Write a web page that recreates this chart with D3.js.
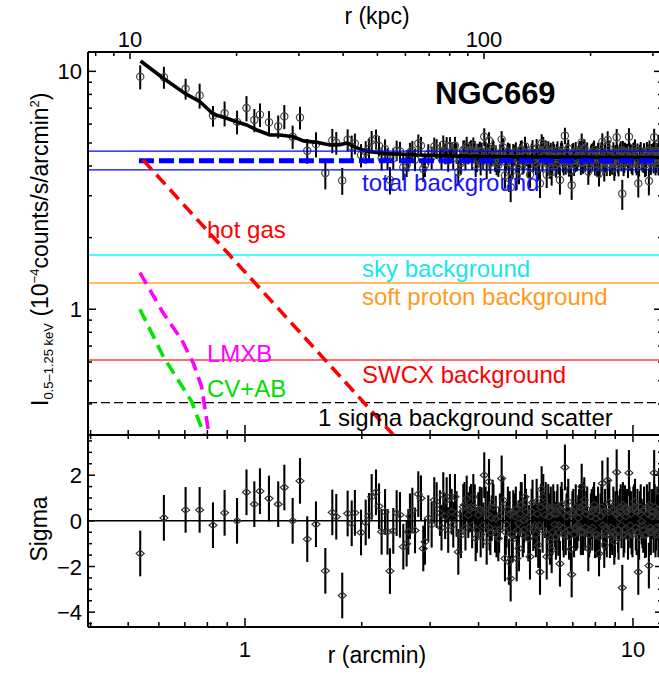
<!DOCTYPE html>
<html>
<head>
<meta charset="utf-8">
<script src="https://cdn.jsdelivr.net/npm/d3@7"></script>
<style>
  body { margin: 0; background: #fff; }
  svg { display: block; }
  text { font-family: "Liberation Sans", Arial, Helvetica, sans-serif; }
</style>
</head>
<body>
<svg id="chart" width="659" height="674"></svg>
<script>
// ---------- surface-brightness profile of NGC 669 ----------
// radial bins (arcmin)
const radiusArcmin = [
  0.537, 0.618, 0.703, 0.764, 0.827, 0.886, 0.954, 1.009, 1.057, 1.093,
  1.153, 1.218, 1.263, 1.327, 1.386, 1.447, 1.524, 1.611, 1.679, 1.719,
  1.781, 1.839, 1.884, 1.920, 1.991, 2.047, 2.087, 2.121, 2.176, 2.215,
  2.250,
  2.296, 2.330, 2.364, 2.411, 2.460, 2.509, 2.559, 2.610, 2.636, 2.662,
  2.700, 2.743, 2.797, 2.842, 2.881, 2.910, 2.968, 3.028, 3.075, 3.119,
  3.181, 3.210, 3.244, 3.280, 3.310, 3.340, 3.375, 3.442, 3.477, 3.510,
  3.546, 3.603, 3.653, 3.700, 3.728, 3.763, 3.800, 3.824, 3.877, 3.932,
  3.960, 3.993, 4.030, 4.074, 4.110, 4.137, 4.197, 4.220, 4.255, 4.290,
  4.324, 4.370, 4.410, 4.450, 4.497, 4.540, 4.587, 4.631, 4.678, 4.725,
  4.760, 4.790, 4.839, 4.870, 4.914, 4.960, 5.015, 5.050, 5.084, 5.120,
  5.166, 5.200, 5.247, 5.268, 5.321, 5.373, 5.427, 5.480, 5.534, 5.590,
  5.645, 5.699, 5.759, 5.817, 5.873, 5.932, 5.993, 6.049, 6.111, 6.172,
  6.230, 6.295, 6.360, 6.419, 6.483, 6.520, 6.572, 6.630, 6.678, 6.740,
  6.811, 6.870, 6.921, 6.950, 7.020, 7.088, 7.160, 7.228, 7.300, 7.376,
  7.430, 7.491, 7.580, 7.671, 7.750, 7.828, 7.900, 7.983, 8.080, 8.175,
  8.250, 8.337, 8.433, 8.520, 8.605, 8.660, 8.723, 8.840, 8.951, 9.010,
  9.078, 9.150, 9.220, 9.300, 9.385, 9.460, 9.536, 9.650, 9.765, 9.840,
  9.922, 10.02, 10.12, 10.22, 10.32, 10.42, 10.53, 10.63, 10.74, 10.86,
  10.99, 11.08, 11.17, 11.26, 11.34, 11.43, 11.51, 11.60, 11.67, 11.80,
  // crowded outer bins
  3.41, 3.59, 3.68, 3.85, 3.91, 4.05, 4.17, 4.27, 4.35, 4.43,
  4.52, 4.61, 4.70, 4.81, 4.90, 4.99, 5.07, 5.14, 5.23, 5.30,
  5.40, 5.51, 5.62, 5.67, 5.73, 5.79, 5.85, 5.96, 6.02, 6.08,
  6.14, 6.20, 6.26, 6.33, 6.39, 6.45, 6.55, 6.60, 6.71, 6.78,
  6.84, 6.98, 7.05, 7.12, 7.19, 7.26, 7.34, 7.46, 7.53, 7.62,
  7.71, 7.79, 7.86, 7.94, 8.03, 8.13, 8.21, 8.29, 8.38, 8.47,
  8.56, 8.69, 8.78, 8.90, 8.98, 9.11, 9.18, 9.26, 9.34, 9.42,
  9.50, 9.59, 9.71, 9.80, 9.88, 9.97, 10.07, 10.17, 10.27, 10.37,
  10.47, 10.58, 10.68, 10.80, 10.92, 11.03, 11.12, 11.21, 11.30, 11.38,
  11.47, 11.55, 11.63, 11.73, 11.86
];

// fit residuals, (data - model) / error
const residualSigma = [
  -1.43, 0.13, 0.48, 0.48, -0.19, 0.35, 0.00, 1.25, 0.73, 1.30,
  0.98, 0.73, 1.46, 0.00, 1.75, -0.80, -0.15, -2.19, 0.37, 0.18,
  -3.27, 0.32, -0.11, 0.35, -0.51, -0.07, 0.22, 1.05, 1.25, 0.64,
  -0.48,
  0.39, -0.48, -2.20, -0.44, 0.34, 0.26, -1.13, -1.00, -0.48, 0.20,
  0.45, -0.42, 1.17, 0.99, -1.21, -0.92, 0.12, -0.17, 0.91, 0.69,
  0.34, -0.30, 1.13, 0.20, 0.91, -0.40, 1.05, -0.17, 1.05, 0.30,
  -1.36, -0.63, 0.61, -0.30, 0.98, 0.25, 0.50, 0.61, 1.05, -0.77,
  -0.40, 0.25, 0.50, 0.47, -0.20, 2.00, -0.92, 0.30, 1.71, -0.50,
  0.12, 0.60, -0.39, -0.60, -0.77, 0.20, 1.86, 0.91, -1.65, -0.17,
  0.50, -1.80, -2.53, -0.60, 0.34, 0.20, -1.65, -0.40, -1.21, 0.30,
  0.69, -0.60, 0.04, 1.05, 0.12, -0.77, -1.57, 0.40, -0.32, -0.20,
  0.84, -1.06, -2.24, 1.39, 1.05, 0.25, -1.57, 0.61, -0.92, -1.29,
  0.60, -0.17, 0.30, -0.53, -1.88, 0.50, 0.39, -0.60, 2.34, 0.20,
  0.84, -0.40, -1.24, -2.35, 0.40, -0.32, -0.30, 0.12, 0.60, 1.50,
  -0.50, 0.91, 0.30, -1.21, -0.40, 0.39, 0.50, -0.63, -0.60, -1.43,
  0.20, 1.64, -1.06, -0.30, 1.78, 0.40, -0.63, -0.50, -0.92, 0.30,
  2.13, -0.40, 0.12, 0.60, -2.93, -0.60, 0.56, 0.40, 2.10, -0.20,
  -0.48, 0.50, 0.84, -0.50, -2.24, 0.30, -0.03, -0.40, -0.63, 0.60,
  -1.96, -0.30, 0.39, 0.40, 2.10, -0.60, 0.12, 0.20, 1.32, -0.20,
  // crowded outer bins
  0.4, -0.5, 0.7, -0.2, 0.6, -0.6, 0.5, -0.3, 0.8, 0.1,
  -0.4, 0.6, -0.5, 0.3, -0.8, 0.5, -0.1, 0.7, -0.4, 0.4,
  -0.3, 0.8, -0.6, 0.3, -0.2, 0.6, -0.4, 0.7, -0.6, 0.2,
  0.5, -0.5, 0.3, -0.7, 0.6, -0.2, 0.7, -0.3, -0.5, 0.5,
  -0.7, 0.3, -0.6, 0.6, -0.2, 0.4, -0.5, 0.7, -0.3, 0.5,
  -0.6, 0.2, -0.3, 0.7, 0.1, 0.5, -0.7, 0.6, -0.2, 0.4,
  -0.6, 0.8, -0.3, 0.5, -0.6, 0.3, -0.7, 0.4, -0.2, 0.7,
  -0.4, 0.2, -0.7, 0.5, 0.3, -0.6, 0.6, -0.3, 0.4, -0.7,
  0.6, -0.2, 0.5, -0.6, 0.3, 0.7, -0.5, 0.2, -0.4, 0.6,
  -0.3, 0.5, -0.6, 0.4, 0.1
];

// 1-sigma error on the surface brightness (1e-4 counts/s/arcmin^2)
const profileErr = [
  1.10, 1.00, 0.85, 0.95, 0.65, 0.80, 0.70, 0.85, 0.70, 0.75,
  0.70, 0.65, 0.75, 0.60, 0.70, 0.55, 0.60, 0.55, 0.60, 0.55,
  0.45, 0.55, 0.55, 0.50, 0.50, 0.50, 0.50, 0.50, 0.50, 0.48,
  0.48,
  0.47, 0.45, 0.46, 0.44, 0.46, 0.45, 0.47, 0.44, 0.46, 0.45,
  0.44, 0.46, 0.45, 0.43, 0.46, 0.44, 0.45, 0.47, 0.44, 0.45,
  0.46, 0.43, 0.45, 0.44, 0.46, 0.45, 0.43, 0.46, 0.44, 0.45,
  0.46, 0.44, 0.45, 0.43, 0.46, 0.44, 0.45, 0.46, 0.43, 0.45,
  0.44, 0.46, 0.45, 0.43, 0.44, 0.46, 0.45, 0.44, 0.43, 0.45,
  0.46, 0.44, 0.43, 0.45, 0.44, 0.46, 0.43, 0.45, 0.44, 0.46,
  0.43, 0.45, 0.44, 0.46, 0.43, 0.44, 0.45, 0.43, 0.46, 0.44,
  0.45, 0.43, 0.44, 0.46, 0.43, 0.45, 0.44, 0.43, 0.46, 0.44,
  0.45, 0.43, 0.44, 0.45, 0.46, 0.43, 0.44, 0.45, 0.43, 0.46,
  0.44, 0.43, 0.45, 0.44, 0.46, 0.43, 0.45, 0.44, 0.43, 0.46,
  0.44, 0.45, 0.43, 0.44, 0.46, 0.45, 0.43, 0.44, 0.46, 0.45,
  0.43, 0.44, 0.45, 0.46, 0.43, 0.44, 0.45, 0.43, 0.46, 0.44,
  0.45, 0.43, 0.44, 0.46, 0.45, 0.43, 0.44, 0.45, 0.46, 0.43,
  0.44, 0.45, 0.43, 0.46, 0.44, 0.45, 0.43, 0.44, 0.46, 0.45,
  0.43, 0.44, 0.45, 0.46, 0.43, 0.44, 0.45, 0.43, 0.46, 0.44,
  0.45, 0.43, 0.44, 0.46, 0.45, 0.43, 0.44, 0.45, 0.46, 0.43,
  // crowded outer bins
  0.44, 0.46, 0.43, 0.45, 0.44, 0.46, 0.45, 0.43, 0.44, 0.46,
  0.45, 0.44, 0.43, 0.46, 0.45, 0.44, 0.46, 0.43, 0.45, 0.44,
  0.46, 0.43, 0.44, 0.45, 0.46, 0.44, 0.43, 0.45, 0.46, 0.44,
  0.43, 0.45, 0.44, 0.46, 0.45, 0.43, 0.44, 0.46, 0.45, 0.43,
  0.44, 0.46, 0.45, 0.43, 0.44, 0.45, 0.46, 0.43, 0.44, 0.45,
  0.46, 0.44, 0.43, 0.45, 0.46, 0.44, 0.45, 0.43, 0.44, 0.46,
  0.45, 0.43, 0.44, 0.46, 0.45, 0.44, 0.43, 0.45, 0.46, 0.44,
  0.43, 0.45, 0.46, 0.44, 0.45, 0.43, 0.44, 0.46, 0.45, 0.43,
  0.44, 0.46, 0.43, 0.45, 0.44, 0.46, 0.45, 0.43, 0.44, 0.45,
  0.46, 0.44, 0.43, 0.45, 0.44
];

// best-fit total model (solid black curve)
const modelR = [0.538, 0.616, 0.700, 0.766, 0.829, 0.897, 0.952, 1.010, 1.072, 1.160,
                1.231, 1.332, 1.413, 1.530, 1.656, 1.757, 1.830, 1.920, 2.050, 2.300,
                2.800, 3.500, 5.000, 8.000, 12.00];
const modelI = [11.05, 9.35, 8.08, 7.45, 6.60, 6.35, 6.14, 5.95, 5.67, 5.40,
                5.40, 5.31, 5.10, 5.03, 4.90, 4.92, 5.00, 4.80, 4.62, 4.52,
                4.45, 4.40, 4.37, 4.35, 4.34];

// model components (dashed)
const hotGasR = [0.546, 2.45];
const hotGasI = [4.24, 0.288];
const lmxbR = [0.536, 0.616, 0.687, 0.736, 0.773, 0.804, 0.812];
const lmxbI = [1.425, 0.962, 0.743, 0.593, 0.473, 0.311, 0.290];
const cvabR = [0.536, 0.616, 0.729, 0.781, 0.790];
const cvabI = [1.000, 0.632, 0.409, 0.302, 0.280];

// background levels
const totalBkgStartR = 0.533;
const totalBkg = 4.21;
const totalBkgRange = [3.85, 4.62];
const skyBkg = 1.69;
const softProtonBkg = 1.29;
const swcxBkg = 0.612;
const bkgScatter = 0.405;

// axis ticks
const arcminMajor = [1, 10];
const arcminMinor = [0.4, 0.5, 0.6, 0.7, 0.8, 0.9, 2, 3, 4, 5, 6, 7, 8, 9];
const kpcMajor = [10, 100];
const kpcMinor = [8, 9, 20, 30, 40, 50, 60, 70, 80, 90, 200, 300];
const intensityMajor = [1, 10];
const intensityMinor = [0.4, 0.5, 0.6, 0.7, 0.8, 0.9, 2, 3, 4, 5, 6, 7, 8, 9];
const sigmaMajor = [-4, -2, 0, 2];

// ---------- layout ----------
const svg = d3.select("#chart");
const X0 = 88, X1 = 662, Y0 = 52, YM = 435, Y1 = 627;

const x = d3.scaleLog().domain([0.3939, 11.88]).range([X0, X1]);
const xKpc = d3.scaleLog().domain([7.61, 318.3]).range([X0, X1]);
const y = d3.scaleLog().domain([0.296, 12.06]).range([YM, Y0]);
const ys = d3.scaleLinear().domain([-4.65, 3.76]).range([Y1, YM]);
const model = d3.scaleLog().domain(modelR).range(modelI);

const defs = svg.append("defs");
defs.append("clipPath").attr("id", "clipTop").append("rect")
  .attr("x", X0).attr("y", Y0).attr("width", X1 - X0).attr("height", YM - Y0);
defs.append("clipPath").attr("id", "clipBot").append("rect")
  .attr("x", X0).attr("y", YM).attr("width", X1 - X0).attr("height", Y1 - YM);

const nPts = Math.min(radiusArcmin.length, residualSigma.length, profileErr.length);
const pts = radiusArcmin.slice(0, nPts).map((r, i) => ({
  r, s: residualSigma[i], e: profileErr[i],
  v: model(r) + residualSigma[i] * profileErr[i]
}));

// ---------- top panel ----------
const gTop = svg.append("g").attr("clip-path", "url(#clipTop)");

// data with error bars
gTop.append("g").selectAll("line").data(pts).join("line")
  .attr("x1", d => x(d.r)).attr("x2", d => x(d.r))
  .attr("y1", d => y(d.v - d.e)).attr("y2", d => y(d.v + d.e))
  .attr("stroke", "#000").attr("stroke-width", 2);
gTop.append("g").selectAll("circle").data(pts).join("circle")
  .attr("cx", d => x(d.r)).attr("cy", d => y(d.v)).attr("r", 3.6)
  .attr("fill", "none").attr("stroke", "#444").attr("stroke-width", 1.2);

const line = d3.line().x(d => x(d[0])).y(d => y(d[1]));
const zip = (a, b) => a.map((v, i) => [v, b[i]]);

// total model
gTop.append("path").attr("d", line(zip(modelR, modelI)))
  .attr("fill", "none").attr("stroke", "#000").attr("stroke-width", 3.6)
  .attr("stroke-linejoin", "round");

// background levels
function hline(v, color, width, dash, r0) {
  gTop.append("line")
    .attr("x1", x(r0 || x.domain()[0])).attr("x2", x(x.domain()[1]))
    .attr("y1", y(v)).attr("y2", y(v))
    .attr("stroke", color).attr("stroke-width", width)
    .attr("stroke-dasharray", dash || null);
}
hline(totalBkgRange[1], "#0000ff", 1.3);
hline(totalBkgRange[0], "#0000ff", 1.3);
hline(totalBkg, "#0000ff", 5, "15,5", totalBkgStartR);
hline(skyBkg, "#00ffff", 1.5);
hline(softProtonBkg, "#ffa431", 1.5);
hline(swcxBkg, "#ff3b3b", 1.4);
hline(bkgScatter, "#000", 1.2, "9,4");

// components
function comp(rs, is, color) {
  gTop.append("path").attr("d", line(zip(rs, is)))
    .attr("fill", "none").attr("stroke", color).attr("stroke-width", 3.6)
    .attr("stroke-dasharray", "13,7");
}
comp(hotGasR, hotGasI, "#ff0000");
comp(lmxbR, lmxbI, "#ff00ff");
comp(cvabR, cvabI, "#00e600");

// annotations
const notes = [
  ["total background", "#1414ff", 362, 191],
  ["hot gas", "#ff0000", 207, 238],
  ["sky background", "#14e6f0", 362, 277],
  ["soft proton background", "#ff9a1a", 362, 305],
  ["LMXB", "#ff00ff", 207, 362],
  ["SWCX background", "#ff0000", 362, 383],
  ["CV+AB", "#00dd00", 207, 397],
  ["1 sigma background scatter", "#000", 318, 426]
];
svg.append("g").selectAll("text").data(notes).join("text")
  .attr("x", d => d[2]).attr("y", d => d[3])
  .attr("fill", d => d[1]).attr("font-size", 24)
  .text(d => d[0]);

svg.append("text").attr("x", 435).attr("y", 104)
  .attr("font-family", "'Liberation Serif', 'Times New Roman', serif")
  .attr("font-weight", "bold").attr("font-size", 31).attr("fill", "#000")
  .text("NGC669");

// ---------- bottom panel ----------
const gBot = svg.append("g").attr("clip-path", "url(#clipBot)");
gBot.append("line").attr("x1", X0).attr("x2", X1)
  .attr("y1", ys(0)).attr("y2", ys(0)).attr("stroke", "#000").attr("stroke-width", 1.5);
gBot.append("g").selectAll("line").data(pts).join("line")
  .attr("x1", d => x(d.r)).attr("x2", d => x(d.r))
  .attr("y1", d => ys(d.s - 1)).attr("y2", d => ys(d.s + 1))
  .attr("stroke", "#000").attr("stroke-width", 2.1);
gBot.append("g").selectAll("path").data(pts).join("path")
  .attr("d", d => {
    const cx = x(d.r), cy = ys(d.s);
    return `M${cx - 4},${cy}L${cx},${cy - 3.4}L${cx + 4},${cy}L${cx},${cy + 3.4}Z`;
  })
  .attr("fill", "none").attr("stroke", "#333").attr("stroke-width", 1.2);

// ---------- frames and ticks ----------
const axes = svg.append("g").attr("stroke", "#000");
[[X0, Y0, X1, Y0], [X0, YM, X1, YM], [X0, Y1, X1, Y1], [X0, Y0, X0, Y1], [X1, Y0, X1, Y1]]
  .forEach(([a, b, c, d]) => axes.append("line")
    .attr("x1", a).attr("y1", b).attr("x2", c).attr("y2", d).attr("stroke-width", 2));

function vt(px, yBase, len) {
  axes.append("line").attr("x1", px).attr("x2", px)
    .attr("y1", yBase).attr("y2", yBase + len).attr("stroke-width", 1.5);
}
function htk(py, xBase, len) {
  axes.append("line").attr("y1", py).attr("y2", py)
    .attr("x1", xBase).attr("x2", xBase + len).attr("stroke-width", 1.5);
}
// arcmin ticks: top panel bottom edge (up), bottom panel top edge (down) and bottom edge (up)
arcminMajor.forEach(v => { vt(x(v), YM, -10); vt(x(v), YM, 7); vt(x(v), Y1, -9); });
arcminMinor.forEach(v => { vt(x(v), YM, -5); vt(x(v), YM, 4); vt(x(v), Y1, -5); });
// kpc ticks on top edge
kpcMajor.forEach(v => vt(xKpc(v), Y0, 7));
kpcMinor.forEach(v => vt(xKpc(v), Y0, 4));
// intensity ticks
intensityMajor.forEach(v => { htk(y(v), X0, 8); htk(y(v), X1, -8); });
intensityMinor.forEach(v => { htk(y(v), X0, 4); htk(y(v), X1, -4); });
// sigma ticks
d3.range(-4.5, 3.51, 0.5).forEach(v => {
  const major = sigmaMajor.includes(v);
  htk(ys(v), X0, major ? 7 : 4); htk(ys(v), X1, major ? -7 : -4);
});

// tick labels
const lab = svg.append("g").attr("font-size", 22).attr("fill", "#000");
kpcMajor.forEach(v => lab.append("text").attr("x", xKpc(v)).attr("y", 47)
  .attr("text-anchor", "middle").text(v));
arcminMajor.forEach(v => lab.append("text").attr("x", x(v)).attr("y", 657)
  .attr("text-anchor", "middle").text(v));
intensityMajor.forEach(v => lab.append("text").attr("x", 82).attr("y", y(v) + 8)
  .attr("text-anchor", "end").text(v));
sigmaMajor.forEach(v => lab.append("text").attr("x", 82).attr("y", ys(v) + 8)
  .attr("text-anchor", "end").text(v < 0 ? "\u2212" + Math.abs(v) : v));

// axis titles
svg.append("text").attr("x", 377).attr("y", 24).attr("text-anchor", "middle")
  .attr("font-size", 23).text("r (kpc)");
svg.append("text").attr("x", 377).attr("y", 663).attr("text-anchor", "middle")
  .attr("font-size", 23).text("r (arcmin)");
svg.append("text").attr("transform", "translate(47,529) rotate(-90)")
  .attr("text-anchor", "middle").attr("font-size", 23).text("Sigma");

const yt = svg.append("text").attr("transform", "translate(48,406) rotate(-90)")
  .attr("font-size", 23);
yt.append("tspan").text("I");
yt.append("tspan").attr("font-size", 13).attr("dy", 5).text("0.5\u20131.25 keV");
yt.append("tspan").attr("dy", -5).text(" (10");
yt.append("tspan").attr("font-size", 13).attr("dy", -9).text("\u22124");
yt.append("tspan").attr("dy", 9).text("counts/s/arcmin");
yt.append("tspan").attr("font-size", 13).attr("dy", -9).text("2");
yt.append("tspan").attr("dy", 9).text(")");
</script>
</body>
</html>
